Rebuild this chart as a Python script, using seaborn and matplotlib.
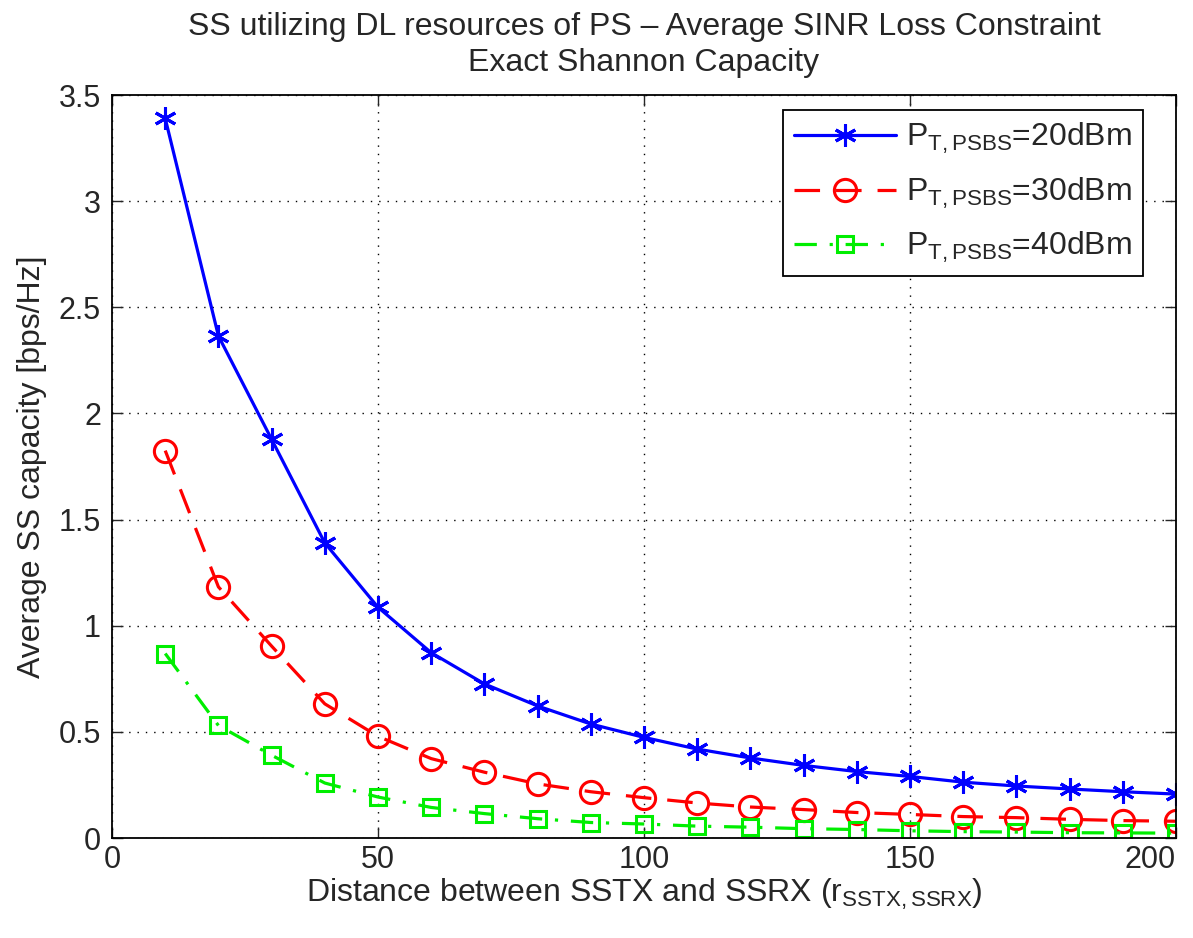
import seaborn as sns
import pandas as pd
import matplotlib.pyplot as plt

distance = [10, 20, 30, 40, 50, 60, 70, 80, 90, 100,
            110, 120, 130, 140, 150, 160, 170, 180, 190, 200]
cap_20dbm = [3.39, 2.365, 1.878, 1.39, 1.087, 0.873, 0.726, 0.622, 0.537, 0.474,
             0.419, 0.377, 0.342, 0.313, 0.29, 0.263, 0.245, 0.231, 0.218, 0.207]
cap_30dbm = [1.825, 1.183, 0.904, 0.632, 0.479, 0.374, 0.31, 0.255, 0.218, 0.19,
             0.165, 0.146, 0.134, 0.12, 0.111, 0.101, 0.096, 0.088, 0.082, 0.079]
cap_40dbm = [0.869, 0.53, 0.39, 0.259, 0.193, 0.144, 0.115, 0.091, 0.073, 0.066,
             0.056, 0.051, 0.044, 0.04, 0.034, 0.03, 0.028, 0.025, 0.024, 0.023]
labels = ['P$_{\\mathregular{T,PSBS}}$=20dBm',
          'P$_{\\mathregular{T,PSBS}}$=30dBm',
          'P$_{\\mathregular{T,PSBS}}$=40dBm']

sns.set_style('white')
plt.rcParams['font.family'] = ['Liberation Sans', 'DejaVu Sans']
plt.rcParams['mathtext.fontset'] = 'custom'
plt.rcParams['mathtext.rm'] = 'Liberation Sans'
plt.rcParams['mathtext.it'] = 'Liberation Sans'

fs = 23
fig = plt.figure(figsize=(11.93, 9.38), dpi=100)
ax = fig.add_axes([0.0939, 0.1066, 0.8918, 0.7921])

styles = [
    dict(color='#0000ff', linestyle='-', marker=(6, 2, 0), markersize=16, markeredgewidth=2.2),
    dict(color='#ff0000', linestyle=(0, (8, 5)), marker='o', markersize=16,
         markerfacecolor='none', markeredgewidth=2.2),
    dict(color='#00ee00', linestyle=(0, (7, 4, 1, 4)), marker='s', markersize=12,
         markerfacecolor='none', markeredgewidth=2.2),
]
for vals, lab, st in zip([cap_20dbm, cap_30dbm, cap_40dbm], labels, styles):
    df = pd.DataFrame({'d': distance, 'c': vals})
    sns.lineplot(data=df, x='d', y='c', ax=ax, label=lab, linewidth=2.3,
                 markeredgecolor=st['color'], **st)

ax.set_xlim(0, 200)
ax.set_ylim(0, 3.5)
ax.set_xticks([0, 50, 100, 150, 200])
ax.set_yticks([0, 0.5, 1, 1.5, 2, 2.5, 3, 3.5])
ax.set_yticklabels(['0', '0.5', '1', '1.5', '2', '2.5', '3', '3.5'])
ax.grid(True, color='black', linestyle=(0, (1, 5)), linewidth=1.0)
ax.tick_params(direction='in', length=8, width=1, labelsize=22,
               top=True, right=True, bottom=True, left=True, pad=8)
ax.tick_params(axis='x', pad=5)
ax.get_xticklabels()[-1].set_horizontalalignment('right')
for s in ax.spines.values():
    s.set_linewidth(1.3)
    s.set_color('black')

ax.set_xlabel('Distance between SSTX and SSRX (r$_{\\mathregular{SSTX,SSRX}}$)', fontsize=fs, labelpad=1)
ax.set_ylabel('Average SS capacity [bps/Hz]', fontsize=fs, labelpad=8)
ax.set_title('SS utilizing DL resources of PS \u2013 Average SINR Loss Constraint\nExact Shannon Capacity',
             fontsize=fs, pad=17, linespacing=1.3)

leg = ax.legend(loc='upper right', bbox_to_anchor=(0.969, 0.98), fontsize=fs,
                frameon=True, fancybox=False, edgecolor='black', borderpad=0.35,
                handlelength=3.2, handletextpad=0.3, labelspacing=0.6, borderaxespad=0)
leg.get_frame().set_linewidth(1.3)
leg.get_frame().set_alpha(1)

fig.savefig('out.png', dpi=100, facecolor='white')
